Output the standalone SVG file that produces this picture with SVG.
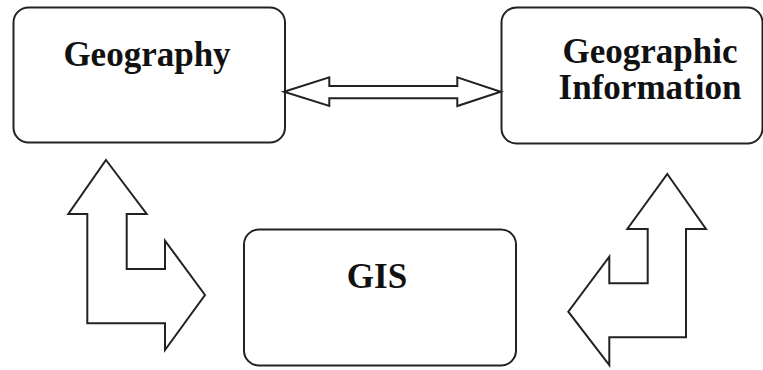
<svg xmlns="http://www.w3.org/2000/svg" width="763" height="370" viewBox="0 0 763 370">
  <style>
    .box { fill: #ffffff; stroke: #222222; stroke-width: 2; }
    .arrow { fill: #ffffff; stroke: #222222; stroke-width: 2; stroke-linejoin: miter; }
    .label { font-family: "Liberation Serif", "Times New Roman", serif; font-weight: bold; font-size: 35px; fill: #111111; text-anchor: middle; }
  </style>
  <rect width="763" height="370" fill="#ffffff"/>

  <g id="geography">
    <rect class="box" x="13.5" y="7.5" width="271.5" height="135" rx="15" ry="15"/>
    <text class="label" x="147" y="66">Geography</text>
  </g>

  <g id="geographic-information">
    <rect class="box" x="501.5" y="7.5" width="261" height="136" rx="15" ry="15"/>
    <text class="label" x="650" y="62.5">Geographic</text>
    <text class="label" x="650" y="98.5">Information</text>
  </g>

  <g id="gis">
    <rect class="box" x="244" y="229.5" width="272" height="136" rx="15" ry="15"/>
    <text class="label" x="377" y="287.5">GIS</text>
  </g>

  <g id="connectors">
    <!-- two-way block arrow between Geography and Geographic Information -->
    <path class="arrow" d="M284,91.7 L329.3,77.3 L329.3,86 L457.3,86 L457.3,77.3 L500.7,91.7 L457.3,106 L457.3,98.3 L329.3,98.3 L329.3,106 Z"/>
    <!-- L-shaped two-way arrow: Geography / GIS -->
    <path class="arrow" d="M106,160 L146.7,214 L126.7,214 L126.7,269 L165,269 L165,240.7 L205,295 L165,350 L165,323.3 L87.3,323.3 L87.3,214 L68.3,214 Z"/>
    <!-- L-shaped two-way arrow: GIS / Geographic Information -->
    <path class="arrow" d="M667.3,174 L706,229 L686,229 L686,337.3 L609.3,337.3 L609.3,365 L568.3,311.7 L609.3,256.7 L609.3,283.3 L647.7,283.3 L647.7,229 L627.3,229 Z"/>
  </g>
</svg>
